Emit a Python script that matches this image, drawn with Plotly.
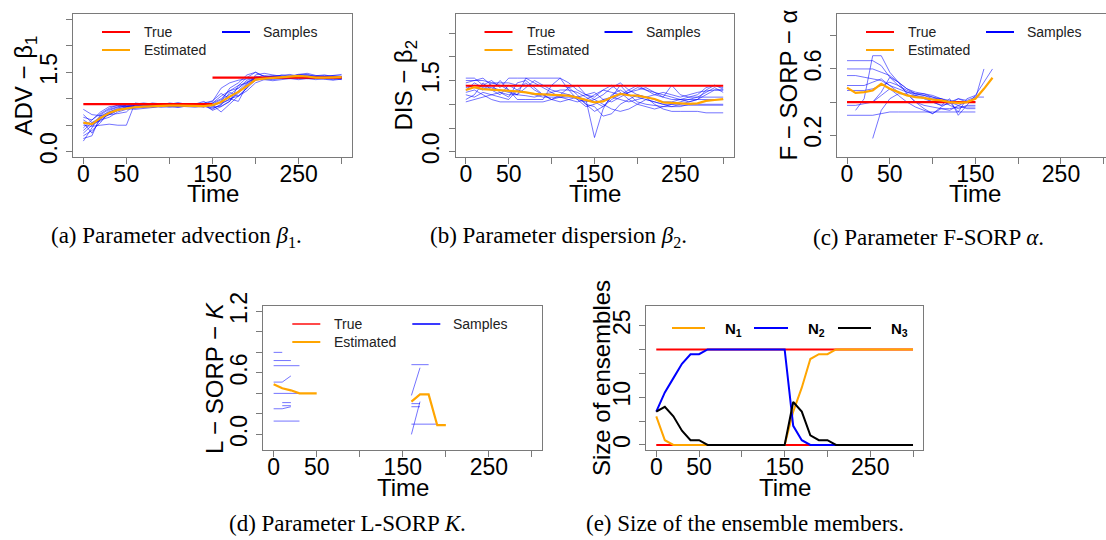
import plotly.graph_objects as go

W, H = 1106, 540

# ---------------- data ----------------
t10 = list(range(0, 301, 10))

# (a) advection beta1
a_true_x = [0, 150, None, 150, 300]
a_true_y = [0.90, 0.90, None, 1.40, 1.40]
a_est = [0.55, 0.52, 0.64, 0.73, 0.79, 0.82, 0.84, 0.85, 0.86, 0.86, 0.87, 0.87, 0.87, 0.87, 0.86, 0.88,
         0.94, 1.04, 1.13, 1.24, 1.36, 1.38, 1.39, 1.40, 1.41, 1.43, 1.42, 1.40, 1.40, 1.40, 1.41]
a_samples = [
    [0.20, 0.45, 0.70, 0.80, 0.85, 0.88, 0.90, 0.92, 0.90, 0.88, 0.92, 0.90, 0.88, 0.90, 0.95, 0.85, 0.95, 1.20, 1.30, 1.45, 1.50, 1.42, 1.40, 1.42, 1.44, 1.45, 1.46, 1.42, 1.40, 1.38, 1.40],
    [0.30, 0.40, 0.55, 0.75, 0.82, 0.88, 0.86, 0.88, 0.92, 0.90, 0.88, 0.87, 0.90, 0.88, 0.86, 0.80, 0.90, 1.00, 1.05, 1.20, 1.35, 1.38, 1.40, 1.45, 1.42, 1.40, 1.42, 1.44, 1.45, 1.42, 1.43],
    [0.40, 0.55, 0.65, 0.70, 0.72, 0.75, 0.90, 0.88, 0.86, 0.88, 0.90, 0.92, 0.90, 0.86, 0.84, 0.92, 1.05, 1.15, 1.25, 1.30, 1.42, 1.40, 1.38, 1.40, 1.42, 1.46, 1.44, 1.40, 1.38, 1.40, 1.42],
    [0.50, 0.48, 0.50, 0.52, 0.50, 0.50, 0.92, 0.90, 0.88, 0.86, 0.88, 0.90, 0.88, 0.90, 0.92, 0.96, 1.10, 1.00, 0.95, 1.25, 1.40, 1.44, 1.42, 1.38, 1.40, 1.42, 1.40, 1.38, 1.40, 1.44, 1.46],
    [0.65, 0.60, 0.72, 0.82, 0.88, 0.85, 0.83, 0.86, 0.88, 0.90, 0.86, 0.85, 0.86, 0.88, 0.90, 0.78, 0.85, 0.95, 1.15, 1.30, 1.38, 1.40, 1.42, 1.44, 1.46, 1.42, 1.40, 1.38, 1.36, 1.35, 1.37],
    [0.80, 0.70, 0.68, 0.75, 0.80, 0.84, 0.86, 0.85, 0.84, 0.86, 0.85, 0.84, 0.86, 0.87, 0.85, 0.90, 0.98, 1.08, 1.20, 1.35, 1.40, 1.38, 1.36, 1.38, 1.40, 1.40, 1.38, 1.36, 1.38, 1.40, 1.38],
    [0.55, 0.35, 0.62, 0.78, 0.84, 0.86, 0.88, 0.90, 0.87, 0.86, 0.87, 0.88, 0.90, 0.88, 0.87, 0.88, 0.75, 0.90, 1.05, 1.20, 1.45, 1.48, 1.45, 1.42, 1.40, 1.46, 1.48, 1.44, 1.42, 1.40, 1.36],
    [0.45, 0.60, 0.75, 0.85, 0.87, 0.86, 0.85, 0.84, 0.86, 0.88, 0.90, 0.92, 0.90, 0.88, 0.90, 0.95, 1.20, 1.30, 1.35, 1.38, 1.40, 1.36, 1.34, 1.36, 1.38, 1.40, 1.42, 1.40, 1.38, 1.36, 1.38],
    [0.70, 0.55, 0.58, 0.72, 0.80, 0.85, 0.88, 0.86, 0.88, 0.84, 0.86, 0.88, 0.86, 0.90, 0.88, 0.82, 0.88, 1.12, 1.05, 1.15, 1.30, 1.36, 1.38, 1.40, 1.38, 1.42, 1.45, 1.42, 1.40, 1.42, 1.40],
    [0.25, 0.30, 0.68, 0.70, 0.78, 0.82, 0.80, 0.82, 0.84, 0.85, 0.84, 0.86, 0.85, 0.84, 0.86, 0.88, 0.92, 0.98, 1.10, 1.28, 1.35, 1.40, 1.42, 1.40, 1.38, 1.36, 1.38, 1.40, 1.42, 1.44, 1.42],
    [0.60, 0.50, 0.60, 0.65, 0.75, 0.80, 0.82, 0.84, 0.86, 0.88, 0.86, 0.84, 0.86, 0.88, 0.86, 0.84, 0.86, 0.95, 1.25, 1.40, 1.50, 1.42, 1.38, 1.40, 1.42, 1.40, 1.38, 1.40, 1.42, 1.40, 1.38],
    [0.35, 0.50, 0.62, 0.70, 0.78, 0.84, 0.86, 0.88, 0.86, 0.88, 0.87, 0.86, 0.88, 0.86, 0.88, 0.92, 1.00, 1.15, 1.20, 1.32, 1.38, 1.40, 1.44, 1.42, 1.40, 1.38, 1.40, 1.42, 1.44, 1.42, 1.40],
]

# (b) dispersion beta2
b_true_x = [0, 300]
b_true_y = [1.39, 1.39]
b_est = [1.30, 1.36, 1.32, 1.31, 1.30, 1.29, 1.27, 1.25, 1.22, 1.21, 1.20, 1.19, 1.18, 1.14, 1.09, 1.04,
         1.06, 1.15, 1.22, 1.19, 1.18, 1.15, 1.11, 1.04, 1.03, 1.01, 1.01, 1.02, 1.07, 1.09, 1.11]
b_samples = [
    [1.55, 1.55, 1.40, 1.50, 1.35, 1.55, 1.55, 1.55, 1.55, 1.55, 1.55, 1.55, 1.30, 1.10, 1.05, 1.10, 1.20, 1.35, 1.45, 1.30, 1.20, 1.15, 1.10, 1.05, 1.05, 1.10, 1.15, 1.20, 1.35, 1.40, 1.35],
    [1.10, 1.20, 1.45, 1.30, 1.20, 1.40, 1.30, 1.25, 1.20, 1.15, 1.15, 1.15, 1.15, 1.15, 1.10, 0.30, 0.90, 1.20, 1.30, 1.20, 1.15, 1.10, 1.05, 1.00, 1.00, 0.98, 0.98, 0.98, 0.98, 0.98, 0.98],
    [1.30, 1.45, 1.35, 1.30, 1.50, 1.30, 1.20, 1.35, 1.50, 1.40, 1.30, 1.25, 1.20, 1.15, 1.00, 0.95, 0.75, 0.80, 1.00, 1.10, 1.20, 1.15, 1.00, 0.90, 0.85, 0.85, 0.85, 0.85, 0.82, 0.82, 0.82],
    [1.40, 1.35, 1.30, 1.45, 1.40, 1.30, 1.10, 1.10, 1.10, 1.10, 1.40, 1.55, 1.45, 1.30, 1.20, 1.25, 1.10, 1.05, 1.15, 1.25, 1.35, 1.30, 1.25, 1.20, 1.15, 1.10, 1.05, 1.10, 1.20, 1.30, 1.30],
    [1.20, 1.15, 1.25, 1.20, 1.15, 1.10, 1.30, 1.45, 1.30, 1.20, 1.10, 1.05, 1.10, 1.15, 1.20, 1.15, 1.30, 1.40, 1.25, 1.10, 1.00, 0.95, 0.90, 0.95, 1.00, 1.05, 1.10, 1.15, 1.25, 1.35, 1.25],
    [1.50, 1.50, 1.50, 1.45, 1.45, 1.45, 1.40, 1.40, 1.40, 1.40, 1.40, 1.40, 1.35, 1.20, 1.00, 0.85, 0.95, 1.10, 1.20, 1.25, 1.30, 1.35, 1.25, 1.15, 1.10, 1.10, 1.10, 1.10, 1.10, 1.10, 1.10],
    [1.05, 1.10, 1.15, 1.20, 1.25, 1.20, 1.20, 1.18, 1.15, 1.20, 1.25, 1.30, 1.30, 1.25, 1.15, 1.05, 0.95, 1.15, 1.40, 1.20, 1.05, 1.00, 0.98, 0.95, 0.95, 1.00, 1.05, 1.10, 1.30, 1.40, 1.32],
    [1.35, 1.40, 1.38, 1.35, 1.30, 1.25, 1.20, 1.55, 1.45, 1.35, 1.25, 1.15, 1.10, 1.05, 1.10, 1.20, 1.30, 1.25, 1.20, 1.30, 1.40, 1.30, 1.20, 1.15, 1.40, 1.20, 1.15, 1.15, 1.15, 1.15, 1.15],
    [1.25, 1.30, 1.20, 1.10, 1.05, 1.05, 1.05, 1.05, 1.05, 1.05, 1.10, 1.15, 1.20, 1.10, 0.95, 1.00, 1.10, 1.15, 1.10, 1.05, 1.10, 1.15, 1.20, 1.25, 1.20, 1.15, 1.20, 1.25, 1.28, 1.30, 1.30],
    [1.45, 1.50, 1.55, 1.40, 1.25, 1.15, 1.45, 1.50, 1.35, 1.20, 1.10, 1.20, 1.35, 1.40, 1.20, 1.10, 1.00, 0.90, 0.85, 0.90, 1.00, 1.10, 1.05, 1.00, 0.95, 0.95, 1.00, 1.00, 1.00, 1.00, 1.00],
]

# (c) F-SORP alpha
tc = list(range(0, 171, 10))
c_true_x = [0, 150]
c_true_y = [0.40, 0.40]
c_est = [0.487, 0.455, 0.46, 0.47, 0.51, 0.48, 0.46, 0.44, 0.43, 0.425, 0.415, 0.41, 0.40, 0.395, 0.40, 0.42, 0.48, 0.547]
c_samples = [
    [0.65, 0.65, 0.65, 0.65, 0.62, 0.55, 0.50, 0.47, 0.45, 0.44, 0.42, 0.42, 0.41, 0.40, 0.40, 0.40, None, None],
    [0.60, 0.60, 0.60, 0.60, 0.58, 0.56, 0.52, 0.48, 0.46, 0.45, 0.44, 0.42, 0.40, 0.38, 0.40, 0.42, 0.60, None],
    [0.56, 0.56, 0.55, 0.54, 0.53, 0.50, 0.48, 0.46, 0.45, 0.45, 0.43, 0.41, 0.38, 0.36, 0.38, 0.44, 0.52, 0.60],
    [0.32, 0.32, 0.32, 0.32, 0.33, 0.34, 0.34, 0.34, 0.34, 0.34, 0.34, 0.34, 0.34, 0.34, 0.34, 0.34, None, None],
    [None, 0.35, 0.42, 0.68, 0.68, 0.58, 0.52, 0.48, 0.45, 0.44, 0.43, 0.42, 0.40, 0.34, 0.42, 0.44, None, None],
    [0.40, 0.40, 0.40, 0.40, 0.46, 0.55, 0.52, 0.45, 0.40, 0.38, 0.37, 0.36, 0.36, 0.37, 0.37, 0.37, None, None],
    [None, None, None, 0.18, 0.35, 0.42, 0.45, 0.45, 0.40, 0.36, 0.33, 0.37, 0.40, 0.42, 0.40, 0.40, None, None],
    [0.47, 0.47, 0.47, 0.48, 0.50, 0.52, 0.50, 0.46, 0.44, 0.42, 0.40, 0.38, 0.42, 0.32, 0.38, 0.38, None, None],
    [0.38, 0.38, 0.39, 0.40, 0.44, 0.48, 0.44, 0.40, 0.37, 0.35, 0.33, 0.36, 0.35, 0.38, 0.36, 0.36, None, None],
    [0.50, 0.50, 0.50, 0.52, 0.54, 0.50, 0.46, 0.44, 0.44, 0.43, 0.40, 0.38, 0.39, 0.42, 0.41, 0.43, 0.43, None],
]

# (d) L-SORP K
d_est_t = [0, 10, 20, 30, 40, 50, None, 160, 170, 180, 190, 200]
d_est = [0.49, 0.45, 0.43, 0.40, 0.40, 0.40, None, 0.32, 0.39, 0.39, 0.09, 0.09]
d_sample_t = [[0, 10], [0, 20], [0, 30], [0, 10, 20], [0, 30], [10, 20], [10, 20], [0, 10, 20], [0, 30],
              [160, 180], [160, 170], [160, 170], [160, 170], [160, 170], [160, 190]]
d_sample_v = [[0.80, 0.80], [0.72, 0.72], [0.67, 0.67], [0.51, 0.51, 0.57], [0.40, 0.40], [0.31, 0.31],
              [0.28, 0.28], [0.25, 0.25, 0.27], [0.13, 0.13],
              [0.68, 0.68], [0.38, 0.65], [0.30, 0.30], [0.27, 0.27], [0.00, 0.32], [0.10, 0.10]]

# (e) ensemble sizes
e_true_hi = [20, 20]
e_true_lo = [0, 0]
e_true_x = [0, 300]
N1 = [6, 1, 0, 0, 0, 0, 0, 0, 0, 0, 0, 0, 0, 0, 0, 0, 7, 12, 18, 19, 19, 20, 20, 20, 20, 20, 20, 20, 20, 20, 20]
N2 = [7, 11, 14, 17, 19, 19, 20, 20, 20, 20, 20, 20, 20, 20, 20, 20, 4, 1, 0, 0, 0, 0, 0, 0, 0, 0, 0, 0, 0, 0, 0]
N3 = [7, 8, 6, 3, 1, 1, 0, 0, 0, 0, 0, 0, 0, 0, 0, 0, 9, 7, 2, 1, 1, 0, 0, 0, 0, 0, 0, 0, 0, 0, 0]

x_ticks = [0, 50, 100, 150, 200, 250, 300]
x_ticktext = ['0', '50', '', '150', '', '250', '']

# ---------------- styling ----------------
RED, ORANGE, BLUE = '#ff0000', '#ffa500', '#0000ff'
SAMPLE = 'rgba(0,0,255,0.55)'
SANS = 'Liberation Sans, Arial, sans-serif'
SERIF = 'Liberation Serif, Times New Roman, serif'
BOX = '#7a7a7a'

# panel geometry in pixels: left, right, top, bottom
geo = {
    'a': (73, 352, 14, 157),
    'b': (455.5, 733.5, 14, 157),
    'c': (837, 1106, 14, 157),
    'd': (263.3, 542.3, 306, 450),
    'e': (646, 923.3, 306, 450),
}
xr = {'a': [-12, 312], 'b': [-12, 312], 'c': [-11.7, 302.6], 'd': [-12, 312], 'e': [-12, 312]}
yr = {'a': [-0.1, 2.6], 'b': [-0.11, 2.9], 'c': [0.068, 0.932], 'd': [-0.152, 1.252], 'e': [-1.05, 29.1]}
yt = {
    'a': ([0, 0.5, 1, 1.5, 2, 2.5], ['0.0', '', '', '1.5', '', '']),
    'b': ([0, 0.5, 1, 1.5, 2, 2.5], ['0.0', '', '', '1.5', '', '']),
    'c': ([0.2, 0.4, 0.6, 0.8], ['0.2', '', '0.6', '']),
    'd': ([0, 0.2, 0.4, 0.6, 0.8, 1.0, 1.2], ['0.0', '', '', '0.6', '', '', '1.2']),
    'e': ([0, 5, 10, 15, 20, 25], ['0', '', '10', '', '', '25']),
}
ytitle = {
    'a': 'ADV − β<sub>1</sub>',
    'b': 'DIS − β<sub>2</sub>',
    'c': 'F − SORP − α',
    'd': 'L − SORP − <i>K</i>',
    'e': 'Size of ensembles',
}
ytitle_x = {'a': 25, 'b': 405, 'c': 788, 'd': 214, 'e': 601}

order = ['a', 'b', 'c', 'd', 'e']
axid = {k: ('' if i == 0 else str(i + 1)) for i, k in enumerate(order)}

fig = go.Figure()


def add(panel, x, y, color, width, **kw):
    fig.add_trace(go.Scatter(x=x, y=y, mode='lines', line=dict(color=color, width=width),
                             xaxis='x' + axid[panel], yaxis='y' + axid[panel],
                             showlegend=False, hoverinfo='skip', connectgaps=False, **kw))


# (a)
for s in a_samples:
    add('a', t10, s, SAMPLE, 1)
add('a', a_true_x, a_true_y, RED, 2.2)
add('a', t10, a_est, ORANGE, 2.2)
# (b)
for s in b_samples:
    add('b', t10, s, SAMPLE, 1)
add('b', b_true_x, b_true_y, RED, 2.2)
add('b', t10, b_est, ORANGE, 2.2)
# (c)
for s in c_samples:
    add('c', tc, s, SAMPLE, 1)
add('c', c_true_x, c_true_y, RED, 2.2)
add('c', tc, c_est, ORANGE, 2.2)
# (d)
for tt, vv in zip(d_sample_t, d_sample_v):
    add('d', tt, vv, SAMPLE, 1)
add('d', d_est_t, d_est, ORANGE, 2.2)
# (e)
add('e', e_true_x, e_true_hi, RED, 2)
add('e', e_true_x, e_true_lo, RED, 2)
add('e', t10, N1, ORANGE, 2)
add('e', t10, N2, BLUE, 2)
add('e', t10, N3, '#000000', 2)

layout = dict(width=W, height=H, margin=dict(l=0, r=0, t=0, b=0, autoexpand=False),
              paper_bgcolor='white', plot_bgcolor='white', showlegend=False)

for k in order:
    L, R, T, B = geo[k]
    xa = dict(domain=[L / W, min(R / W, 1.0)], range=xr[k], anchor='y' + axid[k], automargin=False,
              tickvals=x_ticks, ticktext=x_ticktext, ticks='outside', ticklen=6, tickcolor=BOX,
              ticklabelstandoff=-10,
              showline=True, linecolor=BOX, linewidth=1, mirror=True, showgrid=False, zeroline=False,
              tickfont=dict(family=SANS, size=23, color='black'))
    ya = dict(domain=[1 - B / H, 1 - T / H], range=yr[k], anchor='x' + axid[k], automargin=False,
              tickvals=yt[k][0], ticktext=yt[k][1], ticks='outside', ticklen=6, tickcolor=BOX,
              showline=True, linecolor=BOX, linewidth=1, mirror=(k != 'c'), showgrid=False, zeroline=False,
              tickangle=-90, tickfont=dict(family=SANS, size=23, color='black'))
    layout['xaxis' + axid[k]] = xa
    layout['yaxis' + axid[k]] = ya

fig.update_layout(**layout)

shapes = []
ann = []


def hline(L, T, dx0, dx1, dy, color, width=2):
    shapes.append(dict(type='line', xref='paper', yref='paper',
                       x0=(L + dx0) / W, x1=(L + dx1) / W, y0=1 - (T + dy) / H, y1=1 - (T + dy) / H,
                       line=dict(color=color, width=width)))


def text(x, y, s, size, family=SANS, xanchor='left', angle=0, color='black'):
    ann.append(dict(x=x / W, y=1 - y / H, xref='paper', yref='paper', text=s, showarrow=False,
                    xanchor=xanchor, yanchor='middle', textangle=angle,
                    font=dict(family=family, size=size, color=color)))


# legends for a-d
for k in ['a', 'b', 'c', 'd']:
    L, R, T, B = geo[k]
    red = RED if k != 'd' else '#ff4a4a'
    blue = BLUE if k != 'd' else '#3a3aff'
    hline(L, T, 29, 57, 18, red)
    hline(L, T, 29, 57, 36, ORANGE)
    hline(L, T, 149, 177, 18, blue)
    text(L + 69, T + 18, 'True', 14, color='#222222')
    text(L + 69, T + 36, 'Estimated', 14, color='#222222')
    text(L + 188, T + 18, 'Samples', 14, color='#222222')

# legend for e
L, R, T, B = geo['e']
hline(L, T, 26, 59, 22, ORANGE)
hline(L, T, 108, 142, 22, BLUE)
hline(L, T, 192, 225, 22, '#000000')
text(L + 77, T + 23, '<b>N<sub>1</sub></b>', 15)
text(L + 160, T + 23, '<b>N<sub>2</sub></b>', 15)
text(L + 243, T + 23, '<b>N<sub>3</sub></b>', 15)

# axis titles
for k in order:
    L, R, T, B = geo[k]
    cx = (L + R) / 2 if k != 'c' else 847 + 0.856 * 150
    ty = 193 if k in ('a', 'b', 'c') else 487
    text(cx, ty, 'Time', 24, xanchor='center')
    text(ytitle_x[k], (T + B) / 2, ytitle[k], 24, xanchor='center', angle=-90)

# captions
captions = [
    ('(a) Parameter advection <i>β</i><sub>1</sub>.', 176, 237),
    ('(b) Parameter dispersion <i>β</i><sub>2</sub>.', 558, 237),
    ('(c) Parameter F-SORP <i>α</i>.', 928, 237),
    ('(d) Parameter L-SORP <i>K</i>.', 347, 523),
    ('(e) Size of the ensemble members.', 745, 523),
]
for s, x, y in captions:
    text(x, y, s, 23, family=SERIF, xanchor='center')

fig.update_layout(shapes=shapes, annotations=ann)
fig.write_html('out.html', config={'displayModeBar': False},
               post_script="document.body.style.margin='0';document.body.style.overflow='hidden';")
